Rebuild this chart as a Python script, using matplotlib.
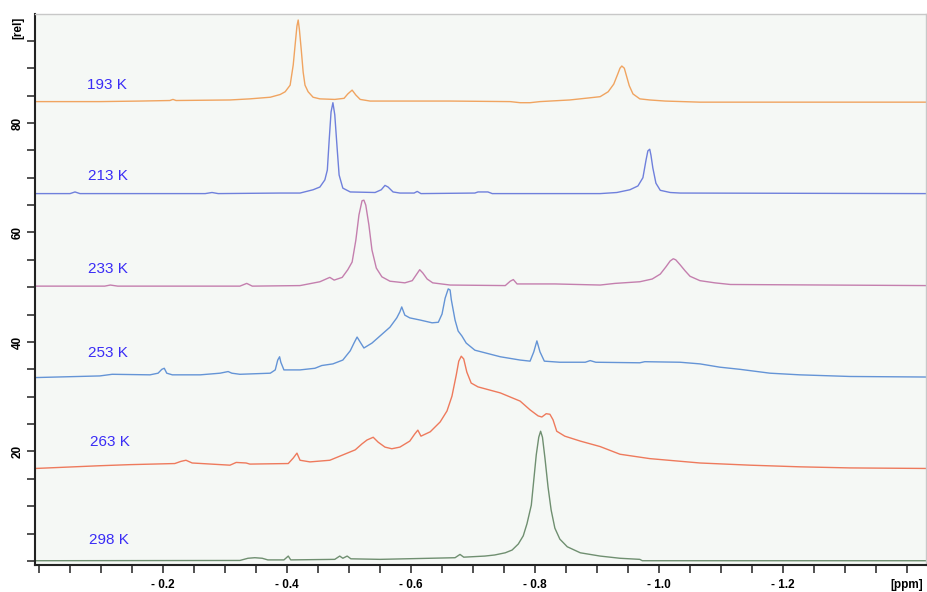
import matplotlib
matplotlib.use("Agg")
import matplotlib.pyplot as plt
from matplotlib.ticker import FixedLocator, MultipleLocator

plt.rcParams['font.family'] = ['Liberation Sans', 'DejaVu Sans']

# spectra: chemical shift [ppm], intensity [rel]
ppm_193 = [0.006, -0.098, -0.163, -0.211, -0.216, -0.221, -0.308, -0.340, -0.373, -0.389, -0.397, -0.405,
           -0.410, -0.413, -0.416, -0.418, -0.420, -0.423, -0.426, -0.429, -0.434, -0.442, -0.453, -0.477,
           -0.492, -0.498, -0.505, -0.511, -0.518, -0.534, -0.663, -0.760, -0.776, -0.792, -0.808, -0.856,
           -0.889, -0.905, -0.918, -0.927, -0.934, -0.937, -0.940, -0.944, -0.947, -0.952, -0.958, -0.969,
           -0.985, -1.010, -1.066, -1.431]
rel_193 = [83.9, 83.9, 84.0, 84.1, 84.3, 84.1, 84.2, 84.4, 84.7, 85.2, 85.7, 86.9,
           90.6, 94.2, 97.7, 98.8, 97.0, 93.3, 89.3, 86.9, 85.7, 84.7, 84.4, 84.3,
           84.5, 85.3, 86.0, 85.1, 84.3, 84.0, 84.0, 83.9, 83.7, 83.7, 83.9, 84.2,
           84.6, 84.8, 85.7, 87.1, 89.1, 90.0, 90.4, 90.0, 88.8, 86.8, 85.3, 84.4,
           84.2, 84.0, 83.8, 83.8]

ppm_213 = [0.006, -0.050, -0.058, -0.066, -0.268, -0.279, -0.289, -0.389, -0.421, -0.442, -0.453, -0.461,
           -0.465, -0.468, -0.471, -0.474, -0.477, -0.481, -0.484, -0.490, -0.502, -0.542, -0.552, -0.558,
           -0.563, -0.571, -0.582, -0.605, -0.610, -0.616, -0.703, -0.708, -0.724, -0.731, -0.905, -0.932,
           -0.953, -0.966, -0.974, -0.979, -0.982, -0.985, -0.987, -0.990, -0.995, -1.002, -1.018, -1.034,
           -1.431]
rel_213 = [67.1, 67.1, 67.4, 67.1, 67.1, 67.3, 67.1, 67.2, 67.2, 67.8, 68.3, 69.6,
           71.4, 76.9, 82.0, 83.7, 81.5, 75.1, 70.5, 68.1, 67.4, 67.3, 67.8, 68.6,
           68.3, 67.4, 67.2, 67.2, 67.5, 67.1, 67.2, 67.4, 67.4, 67.1, 67.1, 67.3,
           67.8, 68.5, 70.0, 73.2, 74.9, 75.2, 74.1, 71.8, 69.0, 67.7, 67.3, 67.2,
           67.1]

ppm_233 = [0.006, -0.106, -0.115, -0.127, -0.324, -0.335, -0.344, -0.421, -0.453, -0.463, -0.469, -0.476,
           -0.489, -0.498, -0.505, -0.511, -0.516, -0.521, -0.524, -0.527, -0.532, -0.537, -0.544, -0.553,
           -0.566, -0.590, -0.602, -0.608, -0.614, -0.619, -0.626, -0.635, -0.663, -0.752, -0.760, -0.765,
           -0.771, -0.800, -0.832, -0.905, -0.929, -0.969, -0.989, -1.002, -1.011, -1.018, -1.023, -1.027,
           -1.034, -1.042, -1.050, -1.066, -1.090, -1.115, -1.431]
rel_233 = [50.2, 50.2, 50.4, 50.2, 50.2, 50.7, 50.2, 50.3, 51.0, 51.5, 51.8, 51.3,
           51.8, 53.2, 54.6, 58.6, 63.2, 65.8, 65.9, 65.0, 61.4, 56.8, 53.5, 51.9,
           51.1, 50.8, 51.2, 52.2, 53.2, 52.6, 51.5, 50.8, 50.4, 50.3, 51.1, 51.4,
           50.6, 50.6, 50.6, 50.4, 50.7, 51.0, 51.5, 52.4, 53.7, 54.8, 55.2, 55.0,
           54.1, 53.0, 52.0, 51.2, 50.8, 50.5, 50.3]

ppm_253 = [0.006, -0.098, -0.118, -0.179, -0.192, -0.198, -0.202, -0.206, -0.215, -0.260, -0.292, -0.305,
           -0.311, -0.324, -0.373, -0.381, -0.385, -0.388, -0.390, -0.395, -0.421, -0.445, -0.456, -0.474,
           -0.490, -0.502, -0.508, -0.513, -0.519, -0.524, -0.537, -0.550, -0.566, -0.577, -0.582, -0.585,
           -0.590, -0.598, -0.615, -0.634, -0.644, -0.650, -0.655, -0.660, -0.663, -0.665, -0.671, -0.676,
           -0.682, -0.689, -0.703, -0.744, -0.776, -0.792, -0.798, -0.803, -0.808, -0.815, -0.840, -0.881,
           -0.889, -0.898, -0.969, -0.977, -1.034, -1.066, -1.098, -1.131, -1.179, -1.227, -1.308, -1.431]
rel_253 = [33.5, 33.8, 34.1, 34.0, 34.3, 35.0, 35.2, 34.3, 34.0, 34.0, 34.3, 34.6,
           34.3, 34.1, 34.3, 34.9, 36.7, 37.3, 36.3, 34.9, 34.9, 35.2, 35.7, 36.0,
           36.7, 38.4, 39.8, 40.9, 39.8, 38.9, 39.8, 41.1, 42.7, 44.4, 45.5, 46.4,
           44.9, 44.4, 44.0, 43.5, 43.6, 45.1, 48.0, 49.7, 49.5, 47.7, 44.0, 42.0,
           41.1, 39.8, 38.5, 37.3, 36.7, 36.5, 38.2, 40.2, 38.2, 36.5, 36.3, 36.3,
           36.6, 36.3, 36.2, 36.4, 36.3, 36.0, 35.4, 35.0, 34.3, 34.0, 33.7, 33.6]

ppm_263 = [0.006, -0.098, -0.147, -0.219, -0.229, -0.237, -0.247, -0.308, -0.318, -0.334, -0.340, -0.402,
           -0.410, -0.416, -0.421, -0.437, -0.469, -0.510, -0.521, -0.529, -0.539, -0.547, -0.558, -0.569,
           -0.582, -0.598, -0.606, -0.611, -0.616, -0.631, -0.647, -0.658, -0.666, -0.673, -0.677, -0.681,
           -0.685, -0.690, -0.697, -0.708, -0.744, -0.776, -0.792, -0.805, -0.811, -0.818, -0.824, -0.829,
           -0.835, -0.848, -0.873, -0.905, -0.937, -0.985, -1.066, -1.147, -1.227, -1.308, -1.431]
rel_263 = [16.9, 17.4, 17.6, 17.8, 18.2, 18.4, 17.9, 17.5, 18.0, 17.9, 17.7, 17.8,
           18.8, 19.7, 18.4, 18.1, 18.4, 20.3, 21.4, 22.1, 22.6, 21.7, 20.8, 20.5,
           20.8, 21.9, 23.2, 23.9, 22.8, 23.6, 25.4, 27.4, 30.1, 34.0, 36.5, 37.4,
           36.9, 34.5, 32.5, 31.8, 30.7, 29.2, 27.6, 26.5, 26.3, 26.9, 26.8, 25.8,
           23.7, 22.8, 21.9, 20.9, 19.5, 18.7, 17.9, 17.5, 17.2, 17.0, 16.9]

ppm_298 = [0.006, -0.324, -0.337, -0.348, -0.360, -0.369, -0.395, -0.402, -0.406, -0.477, -0.485, -0.490,
           -0.497, -0.503, -0.550, -0.631, -0.671, -0.679, -0.685, -0.719, -0.735, -0.752, -0.763, -0.773,
           -0.781, -0.787, -0.794, -0.798, -0.802, -0.806, -0.809, -0.812, -0.816, -0.821, -0.826, -0.832,
           -0.840, -0.852, -0.873, -0.905, -0.937, -0.969, -0.973, -1.431]
rel_298 = [0.05, 0.1, 0.5, 0.6, 0.5, 0.2, 0.2, 0.9, 0.2, 0.3, 0.9, 0.5,
           0.9, 0.4, 0.3, 0.5, 0.6, 1.2, 0.7, 0.9, 1.1, 1.5, 2.0, 3.1,
           4.6, 6.8, 10.2, 14.8, 19.4, 22.6, 23.7, 22.6, 18.8, 13.5, 9.3, 6.0,
           4.0, 2.6, 1.5, 0.9, 0.5, 0.3, 0.05, 0.05]

temps = ['193 K', '213 K', '233 K', '253 K', '263 K', '298 K']
label_ppm = [-0.077, -0.079, -0.079, -0.079, -0.082, -0.081]
label_rel = [86.9, 70.3, 53.3, 38.0, 21.8, 3.8]

xtick_vals = [-0.2, -0.4, -0.6, -0.8, -1.0, -1.2, -1.4]
xtick_labels = ['- 0.2', '- 0.4', '- 0.6', '- 0.8', '- 1.0', '- 1.2', '[ppm]']
ytick_vals = [20, 40, 60, 80]

spectra = [(ppm_193, rel_193, '#f0a460'),
           (ppm_213, rel_213, '#6f80dc'),
           (ppm_233, rel_233, '#c47fae'),
           (ppm_253, rel_253, '#6494d6'),
           (ppm_263, rel_263, '#ee7a5c'),
           (ppm_298, rel_298, '#6f8f70')]

fig = plt.figure(figsize=(9.28, 5.92), dpi=100)
ax = fig.add_axes([35/928, 1 - 565/592, 891/928, 551/592])
ax.set_facecolor('#f5f8f5')

for x, y, c in spectra:
    ax.plot(x, y, color=c, lw=1.0)

for t, lx, ly in zip(temps, label_ppm, label_rel):
    ax.text(lx, ly, t, color='#3a2cf5', fontsize=11, ha='left', va='center')

ax.set_xlim(0.0065, -1.4306)
ax.set_ylim(-0.73, 99.9)

ax.xaxis.set_major_locator(FixedLocator(xtick_vals))
ax.set_xticklabels(xtick_labels, fontsize=8.5, fontweight='bold')
ax.xaxis.set_minor_locator(MultipleLocator(0.05))
ax.yaxis.set_major_locator(FixedLocator(ytick_vals))
ax.set_yticklabels([str(v) for v in ytick_vals], fontsize=8.5, fontweight='bold',
                   rotation=90, va='center')
ax.yaxis.set_minor_locator(MultipleLocator(5))
ax.tick_params(which='both', direction='out', length=6, width=1.1, color='#222222')
ax.tick_params(axis='x', pad=4)
ax.tick_params(axis='y', pad=2)

ax.text(-0.019, 97.4, '[rel]', transform=ax.get_yaxis_transform(), rotation=90,
        fontsize=8.5, fontweight='bold', ha='center', va='center')

for s in ['left', 'bottom']:
    ax.spines[s].set_linewidth(1.5)
    ax.spines[s].set_color('#222222')
for s in ['top', 'right']:
    ax.spines[s].set_linewidth(1.0)
    ax.spines[s].set_color('#c8c8c8')

fig.savefig('out.png', dpi=100)
